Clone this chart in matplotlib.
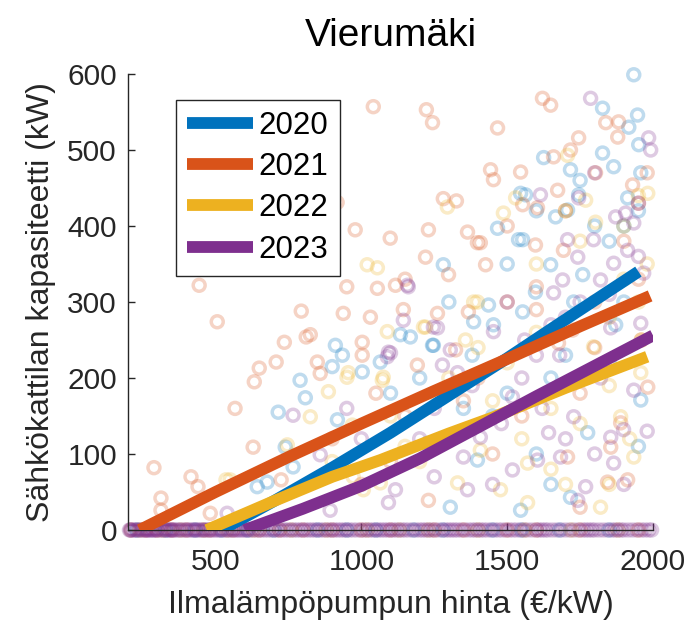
import matplotlib
matplotlib.use("Agg")
import matplotlib.pyplot as plt

plt.rcParams['font.family'] = ['Liberation Sans', 'DejaVu Sans']

# Series labels and colours
years = ['2020', '2021', '2022', '2023']
colors = ['#0072BD', '#D95319', '#EDB120', '#7E2F8E']

# Observations with non-zero capacity: (heat-pump price €/kW, boiler capacity kW)
pts2020 = [(1934, 599), (1827, 555), (1947, 546), (1917, 530), (1951, 507), (1827, 496),
           (1625, 490), (1717, 474), (1865, 478), (1958, 470), (1563, 441), (1745, 441),
           (1913, 437), (1666, 412), (1707, 421), (1467, 397), (1546, 443), (1281, 349),
           (1553, 382), (911, 243), (935, 230), (900, 215), (1003, 208), (1065, 221),
           (1134, 257), (1168, 254), (1244, 243), (1385, 274), (790, 197), (808, 174),
           (715, 155), (918, 145), (739, 109), (766, 83), (643, 57), (677, 63),
           (1539, 382), (1649, 349), (1759, 336), (1436, 296), (1597, 313), (1728, 300),
           (1872, 270), (1453, 270), (1553, 287), (1247, 243), (1226, 114), (1546, 26),
           (1717, 43), (1958, 171), (1776, 128), (1398, 92), (1305, 30), (1850, 380),
           (1900, 400), (1650, 200), (1500, 180), (1100, 180), (1350, 160), (1600, 100),
           (1850, 220), (1700, 230), (1500, 350), (1600, 420), (1800, 400), (1950, 420),
           (1750, 460), (1380, 230), (1300, 300), (1900, 300), (1650, 60), (1950, 110),
           (1450, 150), (1200, 200)]
pts2021 = [(444, 322), (506, 274), (794, 288), (811, 254), (736, 247), (708, 221),
           (650, 213), (633, 195), (289, 82), (416, 70), (440, 57), (313, 42), (313, 26),
           (567, 160), (629, 109), (482, 22), (725, 66), (938, 285), (1031, 280),
           (1003, 247), (1003, 230), (849, 221), (859, 206), (979, 395), (1099, 384),
           (1230, 395), (1364, 392), (1220, 359), (1299, 336), (1055, 318), (1117, 322),
           (1144, 290), (1261, 285), (825, 257), (1192, 217), (1367, 287), (1398, 378),
           (1041, 557), (1223, 553), (1244, 536), (1281, 436), (1326, 433), (917, 431),
           (1621, 568), (1649, 559), (1467, 529), (1745, 516), (1838, 536), (1882, 537),
           (1879, 517), (1659, 491), (1717, 500), (1443, 474), (1453, 461), (1546, 471),
           (1803, 470), (1930, 454), (1673, 447), (1553, 428), (1604, 424), (1408, 378),
           (1693, 368), (1426, 349), (1597, 375), (1230, 39), (1323, 237), (1844, 63),
           (1913, 66), (1982, 188), (1889, 141), (1855, 109), (1707, 96), (1638, 257),
           (1724, 263), (1676, 246), (900, 120), (1150, 150), (1000, 60), (1400, 200),
           (1500, 300), (1600, 320), (1800, 300), (1950, 330), (1750, 180), (1550, 150),
           (1300, 120), (1100, 90), (1950, 430), (1980, 470), (1500, 400), (1700, 420),
           (1900, 380), (1600, 290), (1800, 240), (1960, 250), (1450, 100), (1750, 30),
           (1350, 170), (1050, 180), (1150, 330), (950, 320)]
pts2022 = [(1295, 425), (1020, 349), (1055, 345), (1213, 267), (1089, 261), (1385, 300),
           (1357, 250), (955, 207), (1075, 201), (1487, 417), (1529, 437), (1707, 493),
           (1982, 443), (1769, 434), (1803, 405), (550, 66), (951, 201), (1072, 197),
           (887, 182), (825, 149), (969, 138), (746, 112), (972, 70), (1007, 53),
           (1065, 62), (1398, 300), (1220, 267), (1408, 105), (1796, 241), (1889, 149),
           (1934, 96), (1477, 53), (1570, 36), (1820, 30), (1958, 207), (1570, 88),
           (1330, 62), (536, 66), (1600, 350), (1750, 380), (1900, 330), (1650, 160),
           (1500, 220), (1150, 110), (1250, 180), (1960, 250), (1700, 60), (1850, 190),
           (1950, 440), (1450, 170), (1550, 120), (1650, 80), (1750, 140), (1850, 60),
           (1920, 120), (1300, 200), (1400, 240), (1600, 260), (1850, 280), (1950, 300),
           (1100, 150), (1200, 90), (900, 90), (1700, 420), (1900, 400), (1980, 350)]
pts2023 = [(1786, 568), (1985, 516), (1992, 500), (1614, 441), (1745, 437), (1872, 412),
           (1906, 417), (1934, 404), (1913, 368), (1707, 382), (1796, 382), (1742, 359),
           (1690, 329), (1865, 351), (1158, 322), (1820, 329), (1968, 338), (1659, 312),
           (1161, 320), (1144, 276), (1261, 266), (1093, 234), (1305, 237), (1278, 217),
           (1100, 233), (766, 151), (859, 99), (893, 26), (1093, 36), (540, 22),
           (1247, 267), (1453, 261), (1855, 266), (1958, 272), (1089, 228), (1518, 175),
           (1642, 128), (1728, 149), (1855, 122), (1865, 88), (1683, 96), (1604, 92),
           (1518, 79), (1364, 53), (1117, 53), (1742, 39), (1330, 207), (1408, 122),
           (1350, 96), (1769, 57), (1934, 184), (1899, 132), (1600, 230), (1500, 300),
           (1950, 430), (1800, 470), (1700, 280), (1550, 200), (1620, 160), (1480, 140),
           (1700, 120), (1800, 100), (1900, 60), (1980, 130), (1250, 160), (1200, 120),
           (1380, 190), (1560, 250), (1650, 270), (1750, 300), (1850, 310), (1950, 360),
           (1820, 200), (1680, 230), (1450, 60), (1250, 70), (1000, 120), (950, 160)]

# Prices of observations with zero boiler capacity
zeros2020 = [230, 330, 430, 520, 610, 700, 850, 950, 1050, 1180, 1280, 1450, 1550,
             1680, 1850]
zeros2021 = [210, 260, 300, 350, 400, 480, 560, 650, 720, 800, 900, 1000, 1100, 1250,
             1350, 1500, 1600, 1750, 1950]
zeros2022 = [240, 320, 380, 460, 540, 630, 760, 880, 1020, 1130, 1230, 1400, 1560,
             1720, 1880]
zeros2023 = [205, 212, 225, 238, 250, 262, 270, 280, 290, 300, 315, 328, 340, 350, 360,
             375, 390, 405, 420, 432, 445, 458, 470, 485, 500, 515, 530, 545, 560, 575,
             590, 605, 620, 640, 660, 680, 700, 720, 740, 760, 780, 800, 820, 840, 860,
             880, 900, 920, 940, 960, 985, 1010, 1030, 1050, 1070, 1090, 1110, 1130, 1150,
             1175, 1200, 1220, 1240, 1265, 1290, 1310, 1330, 1355, 1380, 1400, 1420, 1445,
             1470, 1495, 1520, 1545, 1570, 1600, 1620, 1640, 1670, 1700, 1730, 1760, 1780,
             1800, 1830, 1860, 1880, 1900, 1930, 1960, 1985,
             208, 220, 232, 244, 256, 266, 276, 286, 296, 308, 322, 334, 345, 355, 368,
             382, 398, 412, 426, 438, 452, 464, 478, 492, 508, 522, 538, 552, 568, 582,
             598, 612, 630, 650, 670, 690, 710, 730, 750, 770, 790, 810, 830, 850, 870,
             890, 910, 930, 950, 972, 998, 1020, 1040, 1060, 1080, 1100, 1120, 1140, 1162,
             1188, 1210, 1230, 1252, 1278, 1300, 1320, 1342, 1368, 1390, 1410, 1432, 1458,
             1482, 1508, 1532, 1558, 1585, 1610, 1630, 1655, 1685, 1715, 1745, 1770, 1790,
             1815, 1845, 1870, 1890, 1915, 1945, 1972, 1995]

# Fitted trend curves per year
fit_x2020 = [520, 700, 900, 1100, 1300, 1500, 1700, 1950]
fit_y2020 = [0, 38, 82, 128, 177, 226, 277, 340]
fit_x2021 = [240, 500, 750, 1000, 1250, 1500, 1750, 1990]
fit_y2021 = [0, 50, 96, 140, 183, 225, 268, 308]
fit_x2022 = [470, 700, 900, 1065, 1300, 1450, 1700, 1980]
fit_y2022 = [0, 38, 70, 92, 127, 148, 187, 228]
fit_x2023 = [600, 800, 1000, 1200, 1400, 1600, 1800, 2000]
fit_y2023 = [0, 28, 58, 94, 135, 176, 216, 256]

xticks = [500, 1000, 1500, 2000]
yticks = [0, 100, 200, 300, 400, 500, 600]

points = [pts2020, pts2021, pts2022, pts2023]
zeros = [zeros2020, zeros2021, zeros2022, zeros2023]
fits_x = [fit_x2020, fit_x2021, fit_x2022, fit_x2023]
fits_y = [fit_y2020, fit_y2021, fit_y2022, fit_y2023]

axis_color = '#262626'

fig = plt.figure(figsize=(6.93, 6.25), dpi=100)
ax = fig.add_axes([0.1847, 0.152, 0.7576, 0.7296])

for pts, zx, c in zip(points, zeros, colors):
    xs = [p[0] for p in pts] + list(zx)
    ys = [p[1] for p in pts] + [0] * len(zx)
    ax.scatter(xs, ys, s=74, facecolors='none', edgecolors=c, linewidths=2.5,
               alpha=0.25, clip_on=False, zorder=2)

for fx, fy, c, yr in zip(fits_x, fits_y, colors, years):
    ax.plot(fx, fy, color=c, lw=8.5, solid_capstyle='butt', label=yr, zorder=3)

ax.set_xlim(200, 2000)
ax.set_ylim(0, 600)
ax.set_xticks(xticks)
ax.set_yticks(yticks)

ax.spines['top'].set_visible(False)
ax.spines['right'].set_visible(False)
ax.spines['bottom'].set_position(('data', 0))
for sp in ('left', 'bottom'):
    ax.spines[sp].set_color(axis_color)
    ax.spines[sp].set_linewidth(1.0)
    ax.spines[sp].set_zorder(2.5)

ax.tick_params(axis='both', direction='in', length=5, width=1.0, color=axis_color,
               labelcolor=axis_color, labelsize=21.5)
ax.tick_params(axis='x', pad=13)
ax.tick_params(axis='y', pad=8)

ax.set_xlabel('Ilmalämpöpumpun hinta (€/kW)', fontsize=23, color=axis_color, labelpad=10)
ax.set_ylabel('Sähkökattilan kapasiteetti (kW)', fontsize=23, color=axis_color, labelpad=8)
fig.suptitle('Vierumäki', fontsize=28, x=0.5636, y=0.972, va='top', color='black')

leg = ax.legend(loc='upper left', bbox_to_anchor=(0.0914, 0.943), borderaxespad=0,
                fontsize=22.5, handlelength=2.1, handletextpad=0.2, labelspacing=0.36,
                borderpad=0.35, fancybox=False, framealpha=1)
leg.get_frame().set_edgecolor(axis_color)
leg.get_frame().set_linewidth(1.0)

fig.savefig('out.png', dpi=100)
